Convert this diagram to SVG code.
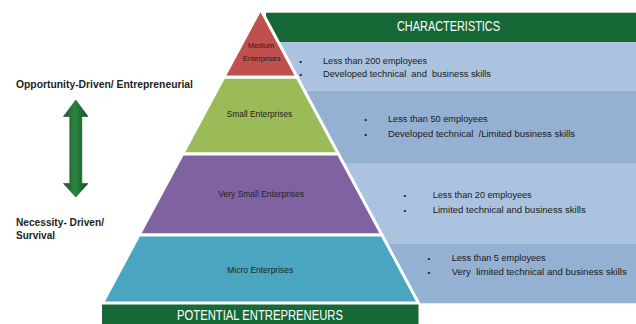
<svg xmlns="http://www.w3.org/2000/svg" width="636" height="324" viewBox="0 0 636 324">
  <defs>
    <linearGradient id="arrowGrad" x1="0" y1="0" x2="1" y2="0">
      <stop offset="0" stop-color="#17552a"/>
      <stop offset="0.45" stop-color="#2a8540"/>
      <stop offset="1" stop-color="#145026"/>
    </linearGradient>
  </defs>
  <style>
    .seg { stroke: #ffffff; stroke-width: 3; stroke-linejoin: miter; }
    .lbl { font-family: "Liberation Sans", Arial, sans-serif; fill: #222222; text-anchor: middle; }
    .txt { font-family: "Liberation Sans", Arial, sans-serif; font-size: 9.6px; fill: #1a1a1a; }
    .bul { font-family: "Liberation Sans", Arial, sans-serif; font-size: 8px; fill: #1a1a1a; text-anchor: middle; }
    .side { font-family: "Liberation Sans", Arial, sans-serif; font-size: 10px; font-weight: bold; fill: #1e1e1e; }
    .head { font-family: "Liberation Sans", Arial, sans-serif; font-size: 14.5px; fill: #ffffff; text-anchor: middle; }
    .bandA { fill: #abc3de; }
    .bandB { fill: #94b1d4; }
    .dkgreen { fill: #176837; }
  </style>

  <rect width="636" height="324" fill="#ffffff"/>

  <g id="characteristics-header">
    <rect class="dkgreen" x="266" y="12.7" width="370" height="29.6"/>
    <text class="head" x="448.5" y="31" textLength="103" lengthAdjust="spacingAndGlyphs">CHARACTERISTICS</text>
  </g>

  <g id="bands">
    <rect class="bandA" x="260" y="42.3" width="376" height="48.2"/>
    <rect class="bandB" x="260" y="90.5" width="376" height="72.5"/>
    <rect class="bandA" x="260" y="163" width="376" height="81"/>
    <rect class="bandB" x="260" y="244" width="376" height="59.3"/>
  </g>

  <g id="potential-entrepreneurs">
    <rect class="dkgreen" x="102" y="303" width="316.5" height="21"/>
    <text class="head" x="260" y="320.3" textLength="166" lengthAdjust="spacingAndGlyphs">POTENTIAL ENTREPRENEURS</text>
  </g>

  <g id="medium-enterprises">
    <polygon class="seg" fill="#c0504d" points="260.5,9 297.2,77.3 223.8,77.3"/>
    <text class="lbl" x="261" y="48.3" font-size="7.8" textLength="26.5" lengthAdjust="spacingAndGlyphs">Medium</text>
    <text class="lbl" x="261.7" y="60.7" font-size="7.8" textLength="38" lengthAdjust="spacingAndGlyphs">Enterprises</text>
  </g>

  <g id="small-enterprises">
    <polygon class="seg" fill="#9bbb59" points="223.8,77.3 297.2,77.3 338.4,154 182.6,154"/>
    <text class="lbl" x="259.5" y="116.7" font-size="8.8" textLength="65.6" lengthAdjust="spacingAndGlyphs">Small Enterprises</text>
  </g>

  <g id="very-small-enterprises">
    <polygon class="seg" fill="#7f62a0" points="182.6,154 338.4,154 382,235 139,235"/>
    <text class="lbl" x="261.2" y="196.7" font-size="8.8" textLength="85.7" lengthAdjust="spacingAndGlyphs">Very Small Enterprises</text>
  </g>

  <g id="micro-enterprises">
    <polygon class="seg" fill="#4aa6c0" points="139,235 382,235 418.5,303 102.5,303"/>
    <text class="lbl" x="260.3" y="273.3" font-size="8.8" textLength="66" lengthAdjust="spacingAndGlyphs">Micro Enterprises</text>
  </g>

  <g id="medium-characteristics">
    <text class="bul" x="300.7" y="64">•</text>
    <text class="bul" x="300.7" y="76.7">•</text>
    <text class="txt" x="323" y="64" textLength="104" lengthAdjust="spacingAndGlyphs">Less than 200 employees</text>
    <text class="txt" x="323" y="76.7" xml:space="preserve" textLength="168" lengthAdjust="spacingAndGlyphs">Developed technical  and  business skills</text>
  </g>

  <g id="small-characteristics">
    <text class="bul" x="365.7" y="122">•</text>
    <text class="bul" x="365.7" y="136.5">•</text>
    <text class="txt" x="388" y="122" textLength="99.7" lengthAdjust="spacingAndGlyphs">Less than 50 employees</text>
    <text class="txt" x="388" y="136.5" xml:space="preserve" textLength="187" lengthAdjust="spacingAndGlyphs">Developed technical  /Limited business skills</text>
  </g>

  <g id="very-small-characteristics">
    <text class="bul" x="405" y="198">•</text>
    <text class="bul" x="405" y="212.7">•</text>
    <text class="txt" x="432.7" y="198" textLength="99" lengthAdjust="spacingAndGlyphs">Less than 20 employees</text>
    <text class="txt" x="432.7" y="212.7" textLength="153" lengthAdjust="spacingAndGlyphs">Limited technical and business skills</text>
  </g>

  <g id="micro-characteristics">
    <text class="bul" x="429" y="260.7">•</text>
    <text class="bul" x="429" y="274.7">•</text>
    <text class="txt" x="451.7" y="260.7" textLength="94" lengthAdjust="spacingAndGlyphs">Less than 5 employees</text>
    <text class="txt" x="451.7" y="274.7" xml:space="preserve" textLength="175" lengthAdjust="spacingAndGlyphs">Very  limited technical and business skills</text>
  </g>

  <g id="opportunity-label">
    <text class="side" x="16" y="88" textLength="177" lengthAdjust="spacingAndGlyphs">Opportunity-Driven/ Entrepreneurial</text>
  </g>

  <g id="necessity-label">
    <text class="side" x="16" y="225.7" textLength="88" lengthAdjust="spacingAndGlyphs">Necessity- Driven/</text>
    <text class="side" x="16" y="238.5" textLength="39" lengthAdjust="spacingAndGlyphs">Survival</text>
  </g>

  <g id="connectors">
    <polygon fill="url(#arrowGrad)" stroke="#145026" stroke-width="0.6" points="75.8,100 88,116.5 81.8,116.5 81.8,183.5 88,183.5 75.8,197 63.5,183.5 69.8,183.5 69.8,116.5 63.5,116.5"/>
  </g>
</svg>
